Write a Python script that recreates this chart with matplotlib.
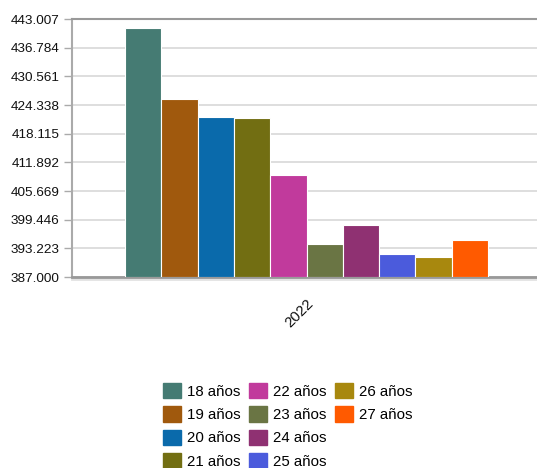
import numpy as np
import matplotlib.pyplot as plt
from matplotlib import patches

plt.rcParams['font.family'] = ['Liberation Sans', 'DejaVu Sans']

years = ['2022']
ages = ['18 años', '19 años', '20 años', '21 años', '22 años',
        '23 años', '24 años', '25 años', '26 años', '27 años']
values = [441.1, 425.6, 421.8, 421.5, 409.1, 394.2, 398.3, 392.1, 391.3, 395.0]
colors = ['#457b73', '#a0590d', '#0a6aab', '#726e12', '#c13a9c',
          '#6a7544', '#8f3172', '#4b5bdc', '#a8880e', '#ff5a00']

y_min, y_max = 387.0, 443.007
yticks = np.linspace(y_min, y_max, 10)

fig = plt.figure(figsize=(5.37, 4.68), dpi=100)
ax = fig.add_axes([72 / 537, 1 - 277 / 468, 469 / 537, 258 / 468])

n = len(ages)
offsets = np.arange(n) - (n - 1) / 2
bars = ax.bar(offsets, np.array(values) - y_min, bottom=y_min, width=1.0,
              color=colors, edgecolor='white', linewidth=0.8, zorder=3)

ax.set_xlim(-6.46, 6.46)
ax.set_ylim(y_min, y_max)
ax.set_yticks(yticks)
ax.set_yticklabels(['%.3f' % t for t in yticks], fontsize=9.7, color='#111111')
ax.set_xticks([0])
ax.set_xticklabels(years, rotation=45, ha='right', rotation_mode='anchor',
                   fontsize=10.8, color='#111111')
ax.tick_params(axis='x', length=0, pad=14)
ax.tick_params(axis='y', length=6, width=1, color='#aaaaaa', pad=3)

ax.grid(axis='y', color='#d8d8d8', linewidth=1.2, zorder=0)
ax.spines['right'].set_visible(False)
ax.spines['top'].set_color('#999999')
ax.spines['top'].set_linewidth(1.5)
ax.spines['left'].set_color('#aaaaaa')
ax.spines['left'].set_linewidth(1.5)
ax.spines['bottom'].set_color('#999999')
ax.spines['bottom'].set_linewidth(2)
ax.set_facecolor('white')

# soft shadow under the baseline
ax.axhline(y_min - 0.45, color='#e2e2e2', linewidth=2, clip_on=False, zorder=1)

# pad to 12 entries so the columns fill 4 / 4 / 2
handles = [patches.Patch(color=c) for c in colors]
labels = list(ages)
for _ in range(2):
    handles.append(patches.Patch(color='none'))
    labels.append('')

fig.legend(handles, labels, ncol=3, loc='upper left',
           bbox_to_anchor=(163 / 537, 1 - 383 / 468), frameon=False,
           fontsize=10.8, handlelength=1.2, handleheight=1.2,
           handletextpad=0.4, columnspacing=0.55, labelspacing=0.5,
           borderaxespad=0, borderpad=0)

fig.savefig('out.png', dpi=100)
